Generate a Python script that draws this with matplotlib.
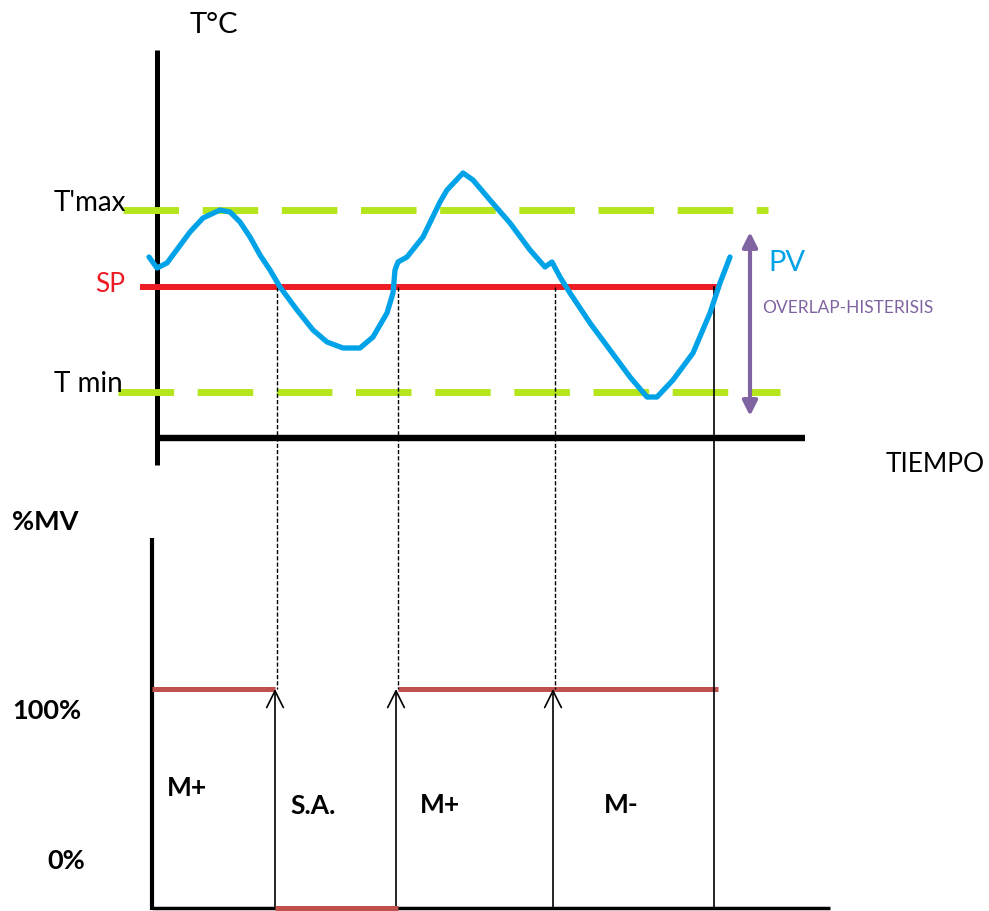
import matplotlib.pyplot as plt

# diagram units = pixels of the original sketch (y grows downwards)
pv_x = [149, 157, 167, 190, 203, 220, 230, 240, 250, 260, 270, 280, 297, 313, 327, 343,
        360, 373, 387, 393, 395, 398, 407, 423, 440, 447, 463, 473, 490, 510, 530, 545,
        552, 560, 570, 590, 610, 630, 647, 657, 673, 693, 710, 720, 730]
pv_y = [257, 268, 263, 232, 218, 210, 212, 222, 237, 255, 270, 287, 310, 330, 342, 348,
        348, 337, 313, 293, 270, 262, 257, 237, 202, 190, 173, 180, 200, 223, 250, 267,
        262, 277, 293, 323, 350, 377, 397, 397, 380, 353, 313, 283, 257]

t_max, t_min, sp = 210, 392, 287
mv_high, mv_low = 689, 908
switch_x = [277, 398, 555]          # dashed projections + arrows
switch_end = 714                    # last crossing
mv_on = [(152, 275), (398, 718)]    # 100% segments
mv_off = [(275, 398)]               # 0% segments
zone_labels = ["M+", "S.A.", "M+", "M-"]
zone_x = [167, 290, 420, 604]
zone_y = [788, 806, 805, 805]

fig = plt.figure(figsize=(9.89, 9.11), dpi=100)
ax = fig.add_axes([0, 0, 1, 1])
ax.set_xlim(0, 989)
ax.set_ylim(911, 0)
ax.axis('off')

font = ['Lato', 'DejaVu Sans']

# upper plot axes
ax.plot([157, 157], [50, 465], color='black', lw=3.6, solid_capstyle='butt')
ax.plot([157, 805], [438, 438], color='black', lw=4.6, solid_capstyle='butt')

# limits and setpoint
ax.plot([123, 768], [t_max, t_max], color='#b5e61d', lw=5, dashes=(8, 3.4))
ax.plot([118, 780], [t_min, t_min], color='#b5e61d', lw=5, dashes=(8, 3.4))
ax.plot([140, 718], [sp, sp], color='#ed1c24', lw=4.3, solid_capstyle='butt')

# process variable
ax.plot(pv_x, pv_y, color='#00a2e8', lw=3.8, solid_capstyle='round',
        solid_joinstyle='round', zorder=5)

# hysteresis arrow
ax.annotate('', xy=(750, 232), xytext=(750, 416),
            arrowprops=dict(arrowstyle='<|-|>', color='#8064a2', lw=3,
                            mutation_scale=22, shrinkA=0, shrinkB=0))

# lower plot axes
ax.plot([152, 152], [538, 910], color='black', lw=3, solid_capstyle='butt')
ax.plot([152, 830], [908, 908], color='black', lw=2.5, solid_capstyle='butt')

for x0, x1 in mv_on:
    ax.plot([x0, x1], [mv_high, mv_high], color='#c0504d', lw=3.6, solid_capstyle='butt')
for x0, x1 in mv_off:
    ax.plot([x0, x1], [mv_low, mv_low], color='#c0504d', lw=3.6, solid_capstyle='butt', zorder=4)

# projections from SP crossings
for x in switch_x:
    ax.plot([x, x], [sp, mv_high], color='black', lw=1, dashes=(3, 1.5))
    ax.annotate('', xy=(x - 2, mv_high), xytext=(x - 2, mv_low),
                arrowprops=dict(arrowstyle='->', color='black', lw=1.2,
                                mutation_scale=30, shrinkA=0, shrinkB=0))
ax.plot([switch_end, switch_end], [sp, mv_low], color='black', lw=1.2)

# texts
ax.text(190, 25, 'T°C', fontsize=21, family=font, va='center', ha='left')
ax.text(54, 203, "T'max", fontsize=20, family=font, va='center', ha='left')
ax.text(54, 384, 'T min', fontsize=20, family=font, va='center', ha='left')
ax.text(95, 284, 'SP', fontsize=19, family=font, color='#ed1c24', va='center', ha='left')
ax.text(768, 263, 'PV', fontsize=21, family=font, color='#00a2e8', va='center', ha='left')
ax.text(762, 308, 'OVERLAP-HISTERISIS', fontsize=12.5, family=font, color='#8064a2',
        va='center', ha='left')
ax.text(886, 464, 'TIEMPO', fontsize=19, family=font, va='center', ha='left')

ax.text(12, 522, '%MV', fontsize=19.5, family=font, weight='bold', va='center', ha='left')
ax.text(12, 711, '100%', fontsize=19.5, family=font, weight='bold', va='center', ha='left')
ax.text(47, 861, '0%', fontsize=19.5, family=font, weight='bold', va='center', ha='left')
for lab, x, y in zip(zone_labels, zone_x, zone_y):
    ax.text(x, y, lab, fontsize=19, family=font, weight='bold', va='center', ha='left')

fig.savefig('out.png', dpi=100)
